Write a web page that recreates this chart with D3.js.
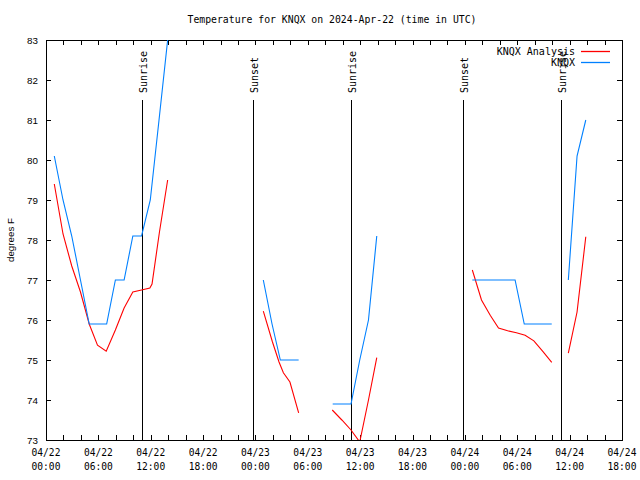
<!DOCTYPE html>
<html>
<head>
<meta charset="utf-8">
<script src="https://cdn.jsdelivr.net/npm/d3@7"></script>
<style>
  html, body { margin: 0; padding: 0; background: #fff; }
  svg { display: block; }
</style>
</head>
<body>
<div id="chart"></div>
<script>
// ---------------- DATA ----------------
const startTime = "2024-04-22T00:00:00Z";
const endTime = "2024-04-24T18:00:00Z";
const yTicks = [73, 74, 75, 76, 77, 78, 79, 80, 81, 82, 83];

// Observed (KNQX), hours since start; null splits segments
const obsHours = [0.95,1.95,2.95,3.95,4.95,5.95,6.95,7.95,8.95,9.95,10.95,11.95,12.95,13.94, null,
  24.9,25.9,26.85,27.9,28.95, null,
  32.85,33.9,34.95,35.95,36.95,37.9, null,
  48.85,49.9,50.9,51.9,52.85,53.75,54.8,55.85,56.9,57.95, null,
  59.85,60.85,61.85];
const obsTemps = [80.1,79.0,78.1,77.0,75.9,75.9,75.9,77.0,77.0,78.1,78.1,79.0,81.0,83.0, null,
  77.0,75.9,75.0,75.0,75.0, null,
  73.9,73.9,73.9,75.0,76.0,78.1, null,
  77.0,77.0,77.0,77.0,77.0,77.0,75.9,75.9,75.9,75.9, null,
  77.0,80.1,81.0];

// KNQX Analysis
const anaHours = [0.95,1.95,2.95,3.95,4.95,5.9,6.9,7.95,8.95,9.95,10.95,11.9,12.15,13.0,13.94, null,
  24.9,25.95,26.7,27.2,27.95,28.95, null,
  32.8,33.9,34.95,35.95,36.95,37.9, null,
  48.85,49.9,50.9,51.85,52.9,53.9,54.9,55.9,56.9,57.95, null,
  59.85,60.85,61.85];
const anaTemps = [79.4,78.15,77.35,76.7,75.9,75.37,75.22,75.75,76.3,76.7,76.75,76.8,76.9,78.2,79.5, null,
  76.22,75.45,74.95,74.68,74.45,73.68, null,
  73.75,73.5,73.25,72.95,74.0,75.06, null,
  77.25,76.5,76.12,75.8,75.73,75.68,75.62,75.48,75.22,74.94, null,
  75.17,76.2,78.08];

// Sun events
const eventNames = ["Sunrise", "Sunset", "Sunrise", "Sunset", "Sunrise"];
const eventHours = [11.03, 23.75, 34.98, 47.75, 58.98];
const eventTopTemp = 81.5;

const seriesNames = ["KNQX Analysis", "KNQX"];
const seriesColors = ["#ff0000", "#0080ff"];

// ---------------- CHART ----------------
const W = 640, H = 480;
const m = { left: 46, right: 18, top: 40, bottom: 40 };
const t0 = new Date(startTime), t1 = new Date(endTime);
const hr = h => new Date(t0.getTime() + h * 3600e3);

const svg = d3.select("#chart").append("svg").attr("width", W).attr("height", H);

const x = d3.scaleUtc().domain([t0, t1]).range([m.left, W - m.right]);
const y = d3.scaleLinear().domain([73, 83]).range([H - m.bottom, m.top]);

const mono = "'DejaVu Sans Mono', 'Liberation Mono', monospace";
const sans = "'Liberation Sans', Arial, sans-serif";

svg.append("defs").append("clipPath").attr("id", "clip")
  .append("rect").attr("x", m.left).attr("y", m.top)
  .attr("width", W - m.left - m.right).attr("height", H - m.top - m.bottom);

// Title
svg.append("text").attr("x", 332).attr("y", 23)
  .attr("text-anchor", "middle").style("font-family", mono).style("font-size", "9.8px")
  .text("Temperature for KNQX on 2024-Apr-22 (time in UTC)");

// Axes
const xTickVals = d3.utcHour.every(2).range(t0, new Date(t1.getTime() + 1));
const tickLen = 5;
const axisG = svg.append("g").attr("shape-rendering", "crispEdges");

const xb = d3.axisBottom(x).tickValues(xTickVals).tickSizeInner(-tickLen).tickSizeOuter(0).tickFormat("");
axisG.append("g").attr("transform", `translate(0,${H - m.bottom})`).call(xb)
  .call(g => g.select(".domain").remove());
const xt = d3.axisTop(x).tickValues(xTickVals).tickSizeInner(-tickLen).tickSizeOuter(0).tickFormat("");
axisG.append("g").attr("transform", `translate(0,${m.top})`).call(xt)
  .call(g => g.select(".domain").remove());

const yl = d3.axisLeft(y).tickValues(yTicks).tickSizeInner(-tickLen).tickSizeOuter(0).tickFormat(d3.format("d")).tickPadding(8);
axisG.append("g").attr("transform", `translate(${m.left},0)`).call(yl)
  .call(g => g.select(".domain").remove())
  .call(g => g.selectAll("text").style("font-family", sans).style("font-size", "9.8px").attr("fill", "#000"));
const yr = d3.axisRight(y).tickValues(yTicks).tickSizeInner(-tickLen).tickSizeOuter(0).tickFormat("");
axisG.append("g").attr("transform", `translate(${W - m.right},0)`).call(yr)
  .call(g => g.select(".domain").remove());

// x labels (every 6 hours)
const labelTicks = xTickVals.filter(d => d.getUTCHours() % 6 === 0);
const fmtD = d3.utcFormat("%m/%d"), fmtT = d3.utcFormat("%H:%M");
const xl = svg.append("g");
labelTicks.forEach(d => {
  const t = xl.append("text").attr("x", x(d)).attr("text-anchor", "middle")
    .style("font-family", mono).style("font-size", "9.6px");
  t.append("tspan").attr("x", x(d)).attr("y", 456).text(fmtD(d));
  t.append("tspan").attr("x", x(d)).attr("y", 470).text(fmtT(d));
});

// y label
svg.append("text").attr("transform", `translate(14,${(m.top + H - m.bottom) / 2}) rotate(-90)`)
  .attr("text-anchor", "middle").style("font-family", sans).style("font-size", "9.8px")
  .text("degrees F");

// border
axisG.append("rect").attr("x", m.left).attr("y", m.top)
  .attr("width", W - m.left - m.right).attr("height", H - m.top - m.bottom)
  .attr("fill", "none").attr("stroke", "#000").attr("stroke-width", 1);

// Sun event lines
const ev = svg.append("g");
eventHours.forEach((h, i) => {
  const xx = Math.round(x(hr(h))) + 0.5;
  ev.append("line").attr("x1", xx).attr("x2", xx)
    .attr("y1", y(eventTopTemp)).attr("y2", y(73))
    .attr("stroke", "#000").attr("stroke-width", 1).attr("shape-rendering", "crispEdges");
  ev.append("text").attr("transform", `translate(${xx + 4.5},${y(eventTopTemp) - 7}) rotate(-90)`)
    .attr("text-anchor", "start").style("font-family", mono).style("font-size", "10px")
    .text(eventNames[i]);
});

// Data lines
function pts(hours, temps) {
  return hours.map((h, i) => ({ h, v: temps[i] }));
}
const line = d3.line().defined(d => d.h !== null && d.v !== null)
  .x(d => x(hr(d.h))).y(d => y(d.v));
const plot = svg.append("g").attr("clip-path", "url(#clip)");
plot.append("path").datum(pts(anaHours, anaTemps)).attr("d", line)
  .attr("fill", "none").attr("stroke", seriesColors[0]).attr("stroke-width", 1.1);
plot.append("path").datum(pts(obsHours, obsTemps)).attr("d", line)
  .attr("fill", "none").attr("stroke", seriesColors[1]).attr("stroke-width", 1.1);

// Legend
const lg = svg.append("g");
seriesNames.forEach((name, i) => {
  const yy = 51 + i * 11;
  lg.append("text").attr("x", 575).attr("y", yy + 3.5).attr("text-anchor", "end")
    .style("font-family", mono).style("font-size", "10px").text(name);
  lg.append("line").attr("x1", 581).attr("x2", 610).attr("y1", yy + 0.5).attr("y2", yy + 0.5)
    .attr("stroke", seriesColors[i]).attr("stroke-width", 1.3);
});
</script>
</body>
</html>
